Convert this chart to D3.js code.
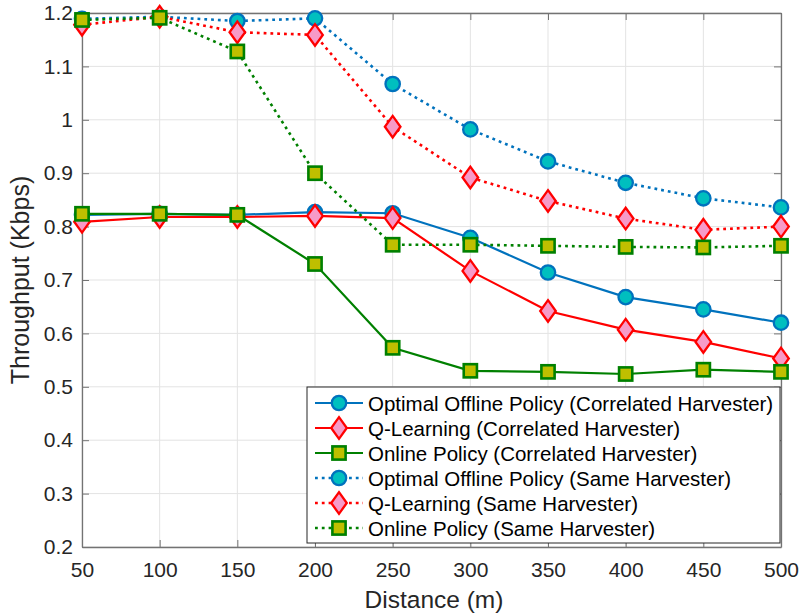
<!DOCTYPE html>
<html>
<head>
<meta charset="utf-8">
<script src="https://cdn.jsdelivr.net/npm/d3@7"></script>
<style>
  html, body { margin: 0; padding: 0; background: #fff; }
  svg { display: block; font-family: "Liberation Sans", Arial, Helvetica, sans-serif; }
</style>
</head>
<body>
<svg id="chart" width="801" height="615"></svg>
<script>
// Distance (m)
const distances = [50, 100, 150, 200, 250, 300, 350, 400, 450, 500];

// Throughput (Kbps) for each policy / harvester model
const optimalCorrelated = [0.822, 0.824, 0.822, 0.827, 0.825, 0.779, 0.714, 0.668, 0.645, 0.620];
const qlearnCorrelated  = [0.809, 0.818, 0.818, 0.820, 0.816, 0.717, 0.642, 0.607, 0.584, 0.553];
const onlineCorrelated  = [0.824, 0.824, 0.822, 0.730, 0.573, 0.530, 0.528, 0.524, 0.532, 0.528];
const optimalSame       = [1.189, 1.193, 1.185, 1.190, 1.067, 0.982, 0.922, 0.882, 0.853, 0.836];
const qlearnSame        = [1.178, 1.193, 1.164, 1.159, 0.987, 0.892, 0.848, 0.815, 0.794, 0.800];
const onlineSame        = [1.187, 1.191, 1.128, 0.900, 0.766, 0.766, 0.764, 0.762, 0.761, 0.764];

const seriesNames = [
  "Optimal Offline Policy (Correlated Harvester)",
  "Q-Learning (Correlated Harvester)",
  "Online Policy (Correlated Harvester)",
  "Optimal Offline Policy (Same Harvester)",
  "Q-Learning (Same Harvester)",
  "Online Policy (Same Harvester)"
];

const xTicks = [50, 100, 150, 200, 250, 300, 350, 400, 450, 500];
const yTicks = [0.2, 0.3, 0.4, 0.5, 0.6, 0.7, 0.8, 0.9, 1.0, 1.1, 1.2];

const styles = {
  optimal: { color: "#0072BD", fill: "#00BFBF", marker: "circle" },
  qlearn:  { color: "#FF0000", fill: "#F79AC8", marker: "diamond" },
  online:  { color: "#008000", fill: "#BFBF00", marker: "square" }
};

const series = [
  { name: seriesNames[0], values: optimalCorrelated, style: styles.optimal, dotted: false },
  { name: seriesNames[1], values: qlearnCorrelated,  style: styles.qlearn,  dotted: false },
  { name: seriesNames[2], values: onlineCorrelated,  style: styles.online,  dotted: false },
  { name: seriesNames[3], values: optimalSame,       style: styles.optimal, dotted: true },
  { name: seriesNames[4], values: qlearnSame,        style: styles.qlearn,  dotted: true },
  { name: seriesNames[5], values: onlineSame,        style: styles.online,  dotted: true }
];

const svg = d3.select("#chart");
const x = d3.scaleLinear().domain([50, 500]).range([82, 781]);
const y = d3.scaleLinear().domain([0.2, 1.2]).range([547, 13]);

const axisColor = "#737373";
const textColor = "#262626";
const DOTS = "2.8,4";

// grid
const grid = svg.append("g");
grid.selectAll(".gx").data(xTicks).join("line")
  .attr("x1", d => x(d)).attr("x2", d => x(d))
  .attr("y1", y(0.2)).attr("y2", y(1.2))
  .attr("stroke", "#e3e3e3").attr("stroke-width", 1);
grid.selectAll(".gy").data(yTicks).join("line")
  .attr("x1", x(50)).attr("x2", x(500))
  .attr("y1", d => y(d)).attr("y2", d => y(d))
  .attr("stroke", "#e3e3e3").attr("stroke-width", 1);

// axes (ticks inside, box on all sides)
const fmtY = d => (Math.abs(d - 1) < 1e-9 ? "1" : d3.format(".1f")(d));
const axB = d3.axisBottom(x).tickValues(xTicks).tickSizeInner(-7).tickSizeOuter(0).tickPadding(15);
const axT = d3.axisTop(x).tickValues(xTicks).tickSizeInner(-7).tickSizeOuter(0).tickFormat("");
const axL = d3.axisLeft(y).tickValues(yTicks).tickSizeInner(-7).tickSizeOuter(0).tickPadding(9).tickFormat(fmtY);
const axR = d3.axisRight(y).tickValues(yTicks).tickSizeInner(-7).tickSizeOuter(0).tickFormat("");

function styleAxis(g) {
  g.select(".domain").attr("stroke", axisColor).attr("stroke-width", 1.3);
  g.selectAll(".tick line").attr("stroke", axisColor).attr("stroke-width", 1);
  g.selectAll(".tick text").attr("fill", textColor).attr("font-size", 21)
    .attr("font-family", "Liberation Sans, Arial, sans-serif");
}
svg.append("g").attr("transform", `translate(0,${y(0.2)})`).call(axB).call(styleAxis);
svg.append("g").attr("transform", `translate(0,${y(1.2)})`).call(axT).call(styleAxis);
svg.append("g").attr("transform", `translate(${x(50)},0)`).call(axL).call(styleAxis);
svg.append("g").attr("transform", `translate(${x(500)},0)`).call(axR).call(styleAxis);

// axis titles
svg.append("text").attr("x", 434).attr("y", 608)
  .attr("text-anchor", "middle").attr("font-size", 24.5).attr("fill", textColor)
  .text("Distance (m)");
svg.append("text").attr("transform", `translate(29,${(y(0.2) + y(1.2)) / 2}) rotate(-90)`)
  .attr("text-anchor", "middle").attr("font-size", 25).attr("fill", textColor)
  .text("Throughput (Kbps)");

// marker drawing
function drawMarker(g, type, cx, cy, st) {
  if (type === "circle") {
    g.append("circle").attr("cx", cx).attr("cy", cy).attr("r", 7.2)
      .attr("fill", st.fill).attr("stroke", st.color).attr("stroke-width", 2.3);
  } else if (type === "diamond") {
    const hw = 7.8, hh = 10.8;
    g.append("path")
      .attr("d", `M${cx},${cy - hh}L${cx + hw},${cy}L${cx},${cy + hh}L${cx - hw},${cy}Z`)
      .attr("fill", st.fill).attr("stroke", st.color).attr("stroke-width", 2.3)
      .attr("stroke-linejoin", "miter");
  } else {
    const s = 13.2;
    g.append("rect").attr("x", cx - s / 2).attr("y", cy - s / 2).attr("width", s).attr("height", s)
      .attr("fill", st.fill).attr("stroke", st.color).attr("stroke-width", 2.6);
  }
}

const line = d3.line().x((d, i) => x(distances[i])).y(d => y(d));

const plot = svg.append("g");
series.forEach(s => {
  const g = plot.append("g");
  g.append("path").datum(s.values).attr("d", line)
    .attr("fill", "none").attr("stroke", s.style.color)
    .attr("stroke-width", s.dotted ? 2.6 : 2.2)
    .attr("stroke-dasharray", s.dotted ? DOTS : null);
  s.values.forEach((v, i) => drawMarker(g, s.style.marker, x(distances[i]), y(v), s.style));
});

// legend
const lg = svg.append("g");
const lx = 307, ly = 387, lw = 473, lh = 156;
lg.append("rect").attr("x", lx).attr("y", ly).attr("width", lw).attr("height", lh)
  .attr("fill", "#fff").attr("stroke", "#262626").attr("stroke-width", 1);
series.forEach((s, i) => {
  const ry = 403 + i * 25;
  lg.append("line").attr("x1", 315).attr("x2", 363).attr("y1", ry).attr("y2", ry)
    .attr("stroke", s.style.color).attr("stroke-width", s.dotted ? 2.6 : 2.2)
    .attr("stroke-dasharray", s.dotted ? DOTS : null);
  drawMarker(lg, s.style.marker, 339, ry, s.style);
  lg.append("text").attr("x", 368).attr("y", ry + 7.5).attr("font-size", 20.5).attr("fill", "#000")
    .text(s.name);
});
</script>
</body>
</html>
